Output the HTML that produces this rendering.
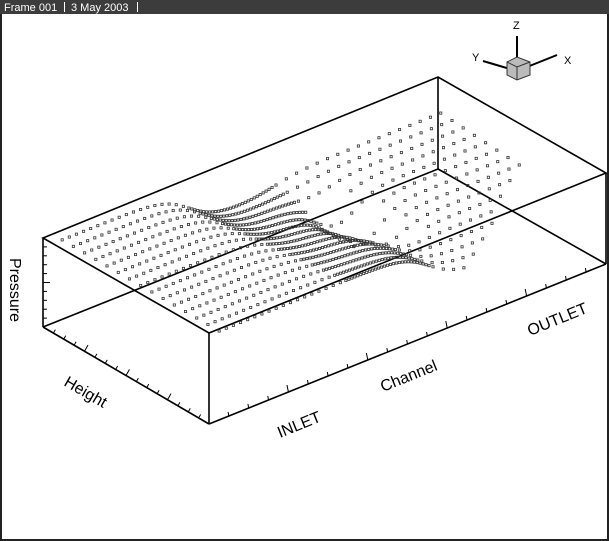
<!DOCTYPE html>
<html><head><meta charset="utf-8"><style>
html,body{margin:0;padding:0;background:#fff;width:609px;height:541px;overflow:hidden}
svg{display:block}
text{font-family:"Liberation Sans",sans-serif;fill:#000}
</style></head><body>
<svg id="s" width="609" height="541" viewBox="0 0 609 541" xmlns="http://www.w3.org/2000/svg">
<rect x="0" y="0" width="609" height="541" fill="#fff"/>
<rect x="0" y="0" width="609" height="14" fill="#3c3c3c"/>
<text x="4" y="11" font-size="11" style="fill:#fff">Frame 001</text>
<rect x="64" y="2" width="1" height="10" fill="#fff"/>
<text x="71" y="11" font-size="11" style="fill:#fff">3 May 2003</text>
<rect x="137" y="2" width="1" height="10" fill="#fff"/>
<rect x="0" y="14" width="2" height="527" fill="#222"/>
<rect x="607" y="14" width="2" height="527" fill="#222"/>
<rect x="0" y="539" width="609" height="2" fill="#222"/>
<g stroke="#000" stroke-width="1.6" fill="none">
<polygon points="43,238 438,77 606,173 209,333"/>
<line x1="43" y1="238" x2="43" y2="327"/>
<line x1="209" y1="333" x2="209" y2="424"/>
<line x1="606" y1="173" x2="606" y2="264"/>
<line x1="438" y1="77" x2="438" y2="169"/>
<line x1="43" y1="327" x2="209" y2="424"/>
<line x1="209" y1="424" x2="606" y2="264"/>
<line x1="43" y1="327" x2="438" y2="169"/>
<line x1="438" y1="169" x2="606" y2="264"/>
</g>
<g id="ticks" stroke="#000" stroke-width="1"></g>
<g id="dots" fill="none" stroke="#333" stroke-width="0.8"></g>
<text font-size="16" transform="translate(10,258) rotate(90)">Pressure</text>
<text font-size="16" transform="translate(63,385) rotate(30)">Height</text>
<text font-size="16" transform="translate(280,438) rotate(-22)">INLET</text>
<text font-size="16" transform="translate(383,392) rotate(-22)">Channel</text>
<text font-size="16" transform="translate(530,336) rotate(-22)">OUTLET</text>
<g stroke="#000" stroke-width="2">
<line x1="517" y1="71" x2="517" y2="36"/>
<line x1="517" y1="71" x2="557" y2="55"/>
<line x1="517" y1="71" x2="483" y2="61"/>
</g>
<polygon points="507,62 517,57 530,62 530,75 517,80 507,75" fill="#bbb" stroke="#333" stroke-width="1"/>
<polyline points="507,62 517,67 530,62" fill="none" stroke="#333" stroke-width="1"/>
<line x1="517" y1="67" x2="517" y2="80" stroke="#333"/>
<text x="513" y="29" font-size="11">Z</text>
<text x="564" y="64" font-size="11">X</text>
<text x="472" y="61" font-size="11">Y</text>
</svg>
<script>
var NS="http://www.w3.org/2000/svg";
var t=document.getElementById("ticks"),d=document.getElementById("dots");
function L(g,x1,y1,x2,y2){var l=document.createElementNS(NS,"line");l.setAttribute("x1",x1);l.setAttribute("y1",y1);l.setAttribute("x2",x2);l.setAttribute("y2",y2);g.appendChild(l);}
for(var i=1;i<10;i++){var y=238+i*8.9;L(t,43,y,i%5==0?50:47,y);}
for(var i=1;i<16;i++){var f=i/16,x=43+166*f,y=327+97*f,k=(i%4==0)?7:4;L(t,x,y,x+k*0.5,y-k*0.87);}
for(var i=1;i<20;i++){var f=i/20,x=209+397*f,y=424-160*f,k=(i%4==0)?7:4;L(t,x,y,x-k*0.2,y-k);}
function sg(x){return 1/(1+Math.exp(-x));}
function P(u,v){
 var s1=sg((u-0.36)*30), s2=sg((u-0.57)*30);
 var left=0.93, mid=0.5+0.45*v, right=0.66-0.15*v;
 var p=left*(1-s1)+mid*s1;
 p=p*(1-s2)+right*s2;
 p-=0.35*Math.exp(-Math.pow((u-0.62)/0.07,2)-Math.pow((v-0.4)/0.2,2));
 return p;}
function add(u,v){var p=P(u,v);var x=43+396*u+167*v,y=327-158*u+97*v-89*p;
 var r=document.createElementNS(NS,"rect");r.setAttribute("x",x-1.1);r.setAttribute("y",y-1.1);r.setAttribute("width",2.2);r.setAttribute("height",2.2);d.appendChild(r);}
for(var j=0;j<=14;j++){var v=0.02+j*0.94/14;
 for(var u=0.04;u<0.36;u+=0.018)add(u,v);
 for(var u=0.36;u<0.57;u+=0.0075)add(u,v);
 var umax=v<0.5?1.0:1.0-0.7*(v-0.5);
 for(var u=0.58;u<umax;u+=0.026){
   var dip=Math.exp(-Math.pow((u-0.62)/0.08,2)-Math.pow((v-0.45)/0.25,2));
   if(dip>0.3 && (j%2==1)) continue;
   add(u,v);}
}
</script>
</body></html>
